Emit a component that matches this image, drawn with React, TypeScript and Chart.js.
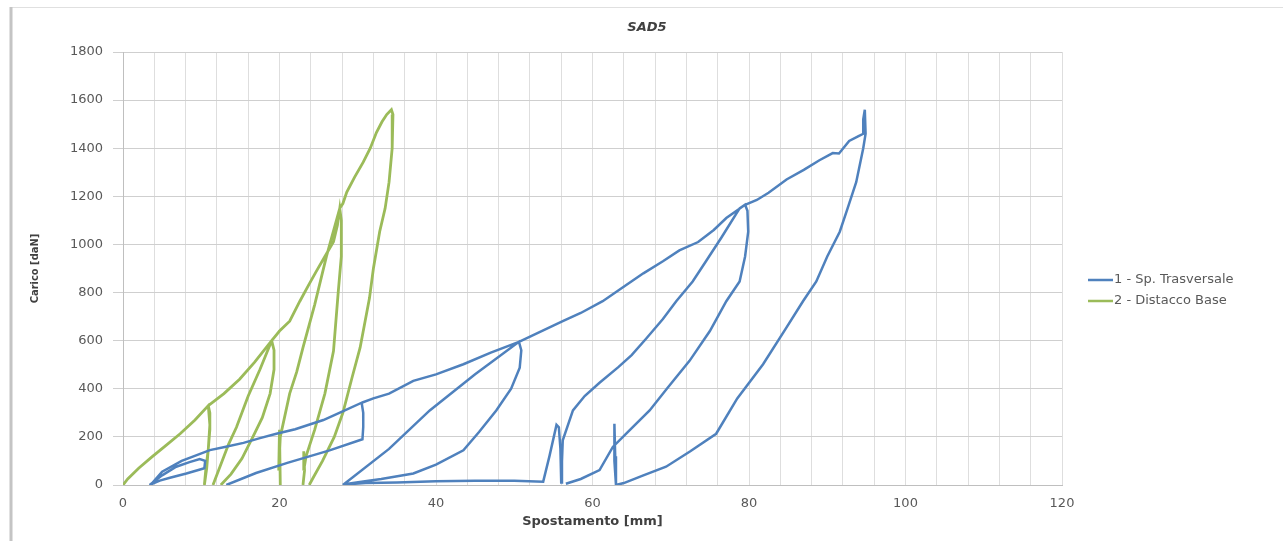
import React, { useEffect, useRef } from "react";
import { Chart, registerables } from "chart.js";

Chart.register(...registerables);

const TITLE = "SAD5";
const X_TITLE = "Spostamento [mm]";
const Y_TITLE = "Carico [daN]";
const SERIES_NAMES = ["1 - Sp. Trasversale", "2 - Distacco Base"];
const SERIES_COLORS = ["#4F81BD", "#9BBB59"];
const X_MIN = 0;
const X_MAX = 120;
const X_GRID_STEP = 4;
const X_TICK_LABELS = [0, 20, 40, 60, 80, 100, 120];
const Y_MIN = 0;
const Y_MAX = 1800;
const Y_STEP = 200;

// Series 1 - Sp. Trasversale (null = break in the trace)
const blueX = [
  3.4, 5, 6.8, 8.5, 9.8, 10.5, 10.4, 8.1, 6, 4.7, 3.6,
  5, 7.5, 11.1, 13, 15.4, 17.5, 19.6, 22, 25.6, 28, 30.5,
  30.7, 30.7, 30.6, 26.4, 21, 17, 13.2,
  null,
  28.1, 34, 39.2, 45, 50.6,
  50.9, 50.7, 49.6, 47.7, 45.5, 43.5, 40, 37.1, 33, 30.7, 28.1,
  31, 35, 40, 45, 50, 53.7,
  54.5, 55.4, 55.7, 55.9, 56, 56.1,
  56.2, 57.5, 59, 60.9, 63.3, 65, 66.9, 69, 70.7, 72.8, 74.5, 76.5, 78.8, 79.5,
  79.8, 79.9, 79.5, 78.8, 77.1, 75, 72.4, 69.5, 67.3, 64.5, 62.6, 60.9, 58.5, 56.6,
  null,
  30.5, 32, 34, 37.1, 40, 43.5, 47, 50.6,
  53.5, 56.2, 58.5, 61.3, 63.8, 66.5, 69, 71.1, 73.5, 75.5, 77.1, 79.5, 81, 82.5,
  84.8, 87, 89, 90.7, 91.5, 92.8, 94, 94.6, 94.6, 94.8,
  94.9, 94.6, 93.7, 92.6, 91.6, 90, 88.6, 86.9, 84.8, 81.8, 78.5, 75.8, 72.5,
  69.4, 66.5, 64, 63,
  62.8, 62.8, 62.9, 63
];
const blueY = [
  0, 40, 76, 95, 108, 100, 70, 48, 30, 18, 3,
  55, 100, 145, 158, 175, 195, 213, 232, 270, 305, 342,
  300, 240, 190, 144, 92, 50, 0,
  null,
  0, 150, 310, 460, 595,
  560, 488, 400, 310, 220, 144, 85, 48, 25, 15, 2,
  8, 10, 16, 18, 18, 14,
  120, 250, 240, 150, 10, 100,
  186, 310, 370, 425, 490, 540, 610, 690, 764, 846, 930, 1030, 1150, 1165,
  1140, 1053, 950, 846, 764, 640, 516, 400, 310, 220, 158, 62, 25, 5,
  null,
  342, 360, 380, 433, 460, 502, 550, 595,
  640, 681, 715, 764, 820, 880, 930, 975, 1010, 1060, 1110, 1165, 1185, 1215,
  1270, 1310, 1350, 1380, 1378, 1430, 1450, 1460, 1520, 1560,
  1460, 1400, 1259, 1150, 1053, 950, 846, 764, 655, 502, 360, 213, 140,
  76, 40, 8, 0,
  100, 255, 120, 0
];

// Series 2 - Distacco Base (null = break in the trace)
const greenX = [
  // envelope to first peak, unload / reload of cycle 1
  0, 0.6, 2, 3.7, 5.5, 7.3, 9.2, 10.9,
  11.1, 11.1, 10.9, 10.7, 10.4, 10.6, 10.9, 11.1, 10.9,
  // envelope to second peak
  12.9, 14.9, 16.8, 19,
  // unload cycle 2
  19.3, 19.3, 18.8, 17.8, 16.6, 15.2, 13.8, 12.5,
  null,
  // reload cycle 2
  11.5, 13.5, 14.5, 16, 17.5, 19,
  // envelope to third peak
  20, 21.3, 22.6, 23.7, 24.7, 25.8, 26.9, 27.4, 27.7,
  // unload cycle 3
  27.9, 27.9, 27.5, 26.9, 25.8, 24.5, 23.4, 23.1, 23.1, 23.2, 23.0,
  null,
  // reload cycle 3
  20.1, 20.0, 19.9, 20.1, 21.3, 22.2, 23, 24.5, 26, 27.7,
  // envelope to last peak
  28.1, 28.6, 29.6, 30.7, 31.6, 32.4, 33.1, 33.7, 34.3,
  // final unload
  34.5, 34.4, 34, 33.5, 32.8, 32, 31.5, 30.3, 29.3, 28.1, 27, 25.5, 24.3, 23.8
];
const greenY = [
  0, 25, 70, 117, 165, 213, 270, 330,
  300, 230, 150, 70, 0, 70, 150, 250, 330,
  380, 440, 510, 600,
  560, 480, 380, 280, 200, 110, 45, 0,
  null,
  0, 170, 240, 370, 480, 600,
  640, 681, 764, 830, 888, 950, 1011, 1080, 1150,
  1100, 950, 800, 557, 380, 230, 120, 60, 140, 60, 0,
  null,
  0, 230, 60, 200, 380, 470, 571, 750, 950, 1150,
  1170, 1218, 1280, 1342, 1400, 1466, 1510, 1540, 1560,
  1540, 1400, 1259, 1150, 1053, 900, 777, 571, 450, 300, 200, 100, 30, 0
];

function toPoints(xs: (number | null)[], ys: (number | null)[]) {
  return xs.map((x, i) => ({ x: x as number, y: ys[i] as number }));
}

const TICK_FONT = { family: "'DejaVu Sans', sans-serif", size: 13 };
const TICK_COLOR = "#595959";

const framePlugin = {
  id: "frame",
  beforeDraw(chart: any) {
    const { ctx, width, height } = chart;
    ctx.save();
    ctx.fillStyle = "#ffffff";
    ctx.fillRect(0, 0, width, height);
    ctx.strokeStyle = "#e0e0e0";
    ctx.lineWidth = 1;
    ctx.beginPath();
    ctx.moveTo(11, 7.5);
    ctx.lineTo(width, 7.5);
    ctx.stroke();
    ctx.strokeStyle = "#c4c4c4";
    ctx.lineWidth = 3;
    ctx.beginPath();
    ctx.moveTo(11, 7);
    ctx.lineTo(11, height);
    ctx.stroke();
    ctx.restore();
  },
};

const legendPlugin = {
  id: "sideLegend",
  afterDraw(chart: any) {
    const { ctx } = chart;
    const x0 = 1088;
    const len = 25;
    const y0 = 280;
    const gap = 21;
    ctx.save();
    ctx.font = "13px 'DejaVu Sans', sans-serif";
    ctx.textBaseline = "middle";
    ctx.textAlign = "left";
    chart.data.datasets.forEach((ds: any, i: number) => {
      const y = y0 + i * gap;
      ctx.strokeStyle = ds.borderColor;
      ctx.lineWidth = 2.5;
      ctx.beginPath();
      ctx.moveTo(x0, y);
      ctx.lineTo(x0 + len, y);
      ctx.stroke();
      ctx.fillStyle = TICK_COLOR;
      ctx.fillText(ds.label, x0 + len + 1, y);
    });
    ctx.restore();
  },
};

export default function App() {
  const canvasRef = useRef<HTMLCanvasElement | null>(null);

  useEffect(() => {
    document.body.style.margin = "0";
    const canvas = canvasRef.current;
    if (!canvas) return;
    const chart = new Chart(canvas, {
      type: "line",
      data: {
        datasets: [
          {
            label: SERIES_NAMES[0],
            data: toPoints(blueX, blueY),
            borderColor: SERIES_COLORS[0],
            backgroundColor: SERIES_COLORS[0],
            borderWidth: 2.5,
            pointRadius: 0,
            tension: 0,
            spanGaps: false,
            fill: false,
          },
          {
            label: SERIES_NAMES[1],
            data: toPoints(greenX, greenY),
            borderColor: SERIES_COLORS[1],
            backgroundColor: SERIES_COLORS[1],
            borderWidth: 2.8,
            pointRadius: 0,
            tension: 0,
            spanGaps: false,
            fill: false,
          },
        ],
      },
      options: {
        animation: false,
        responsive: false,
        maintainAspectRatio: false,
        layout: { padding: { left: 11, right: 0, top: 0, bottom: 0 } },
        plugins: {
          legend: { display: false },
          tooltip: { enabled: false },
          title: {
            display: true,
            text: TITLE,
            color: "#404040",
            font: { family: "'DejaVu Sans', sans-serif", size: 13, weight: "bold", style: "italic" },
            padding: { top: 20, bottom: 16.4 },
          },
        },
        scales: {
          x: {
            type: "linear",
            min: X_MIN,
            max: X_MAX,
            afterFit: (s: any) => {
              s.height = 56;
            },
            afterBuildTicks: (s: any) => {
              const t = [];
              for (let v = X_MIN; v <= X_MAX; v += X_GRID_STEP) t.push({ value: v });
              s.ticks = t;
            },
            ticks: {
              autoSkip: false,
              maxRotation: 0,
              padding: 11,
              color: TICK_COLOR,
              font: TICK_FONT,
              callback: (v: any) => (X_TICK_LABELS.includes(v) ? String(v) : ""),
            },
            grid: { color: "#dedede", drawTicks: false },
            border: { color: "#bfbfbf" },
            title: {
              display: true,
              text: X_TITLE,
              color: "#404040",
              font: { family: "'DejaVu Sans', sans-serif", size: 13, weight: "bold" },
              padding: { top: 0, bottom: 11.5 },
            },
          },
          y: {
            type: "linear",
            min: Y_MIN,
            max: Y_MAX,
            afterFit: (s: any) => {
              s.width = 112;
            },
            ticks: {
              stepSize: Y_STEP,
              padding: 10,
              color: TICK_COLOR,
              font: TICK_FONT,
              callback: (v: any) => String(v),
            },
            grid: { color: "#cfcfcf", tickLength: 10 },
            border: { color: "#bfbfbf" },
            title: {
              display: true,
              text: Y_TITLE,
              color: "#404040",
              font: { family: "'DejaVu Sans Condensed', 'DejaVu Sans', sans-serif", size: 11, weight: "bold" },
              padding: { top: 17.5, bottom: 0 },
            },
          },
          yRight: {
            type: "linear",
            position: "right",
            display: true,
            afterFit: (s: any) => {
              s.width = 221;
            },
            ticks: { display: false },
            grid: { display: false },
            border: { display: false },
          },
        },
      },
      plugins: [framePlugin, legendPlugin],
    });
    return () => chart.destroy();
  }, []);

  return (
    <div style={{ position: "absolute", left: 0, top: 0, width: 1283, height: 541 }}>
      <canvas ref={canvasRef} width={1283} height={541} style={{ width: 1283, height: 541, display: "block" }} />
    </div>
  );
}
